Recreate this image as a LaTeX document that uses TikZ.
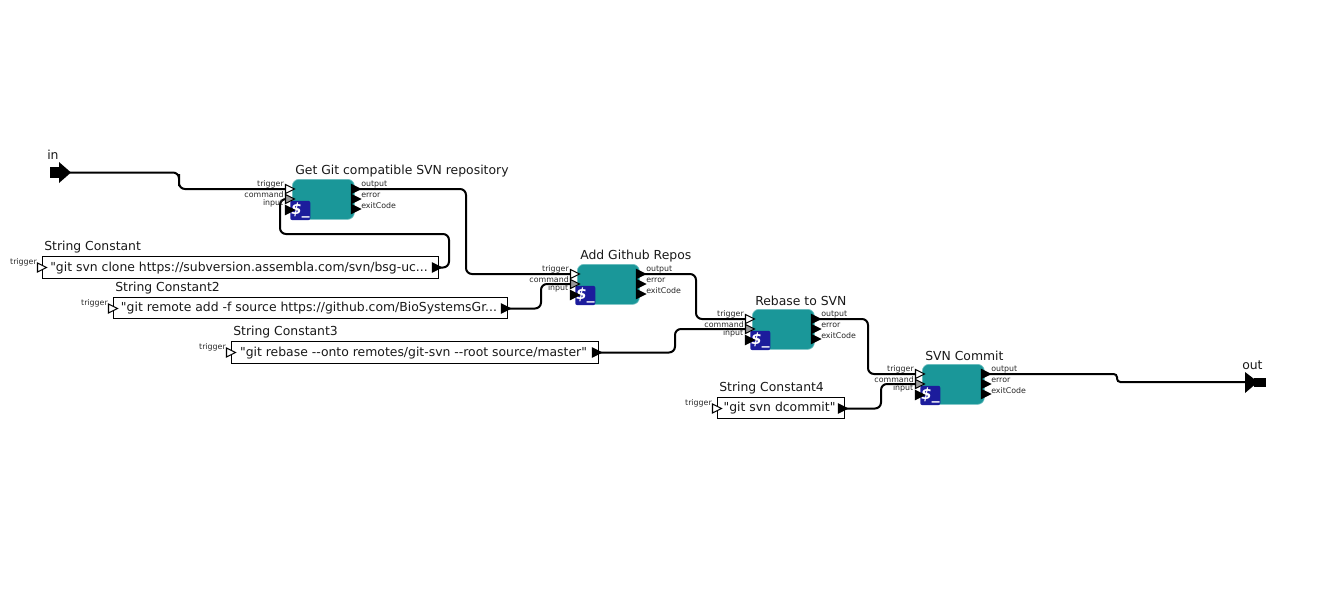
\documentclass[tikz,border=0pt]{standalone}
\usepackage{fontspec}
\setmainfont{DejaVu Sans}
\font\bodyfnt="DejaVu Sans" at 9.3pt
\usetikzlibrary{backgrounds}
\definecolor{teal1}{HTML}{1A9799}
\definecolor{teal2}{HTML}{6FBFC0}
\definecolor{navy1}{HTML}{1C1C9C}
\tikzset{
  x=0.75pt,y=-0.75pt,
  wire/.style={draw=black,line width=1.5pt,rounded corners=4.5pt},
  titlelbl/.style={font=\fontsize{9.3}{11}\selectfont,inner sep=0pt,anchor=west,text=black!90},
  portlbl/.style={font=\fontsize{5.9}{7}\selectfont,inner sep=0pt,text=black!85},
  bodylbl/.style={font=\bodyfnt,inner sep=0pt,text=black!90},
  modbox/.style={fill=teal1,draw=teal2,line width=0.5pt,rounded corners=5pt,minimum width=46.5pt,minimum height=30pt,inner sep=0pt},
  iconbox/.style={fill=navy1,rounded corners=1.5pt,minimum width=15pt,minimum height=14.5pt,inner sep=0pt,text=white,font=\fontsize{11.5}{11.5}\bfseries\itshape\selectfont},
  constbox/.style={draw=black,fill=white,line width=0.8pt,inner sep=0pt},
  porttri/.style={draw=black,line width=0.8pt,line join=miter},
}
\newcommand{\porttriangle}[4]{%
  \coordinate (#1) at (#2,#3);
  \filldraw[porttri,fill=#4] (#2-4.5,#3-4.5) -- (#2+4.5,#3) -- (#2-4.5,#3+4.5) -- cycle;}
\newcommand{\modnode}[4]{%
  \node[modbox,anchor=north west] (#1) at (#2,#3) {};
  \node[titlelbl] (#1-title) at (#2+3,#3-8) {#4};
  \node[iconbox,anchor=north west] (#1-icon) at (#2-2,#3+21.5) {\$\_};
  \node[portlbl,anchor=east] (#1-lt) at (#2-8,#3+5.5) {trigger};
  \node[portlbl,anchor=east] (#1-lc) at (#2-8,#3+16) {command};
  \node[portlbl,anchor=east] (#1-li) at (#2-8.5,#3+24.5) {input};
  \node[portlbl,anchor=west] (#1-lo) at (#2+69,#3+5.5) {output};
  \node[portlbl,anchor=west] (#1-le) at (#2+69,#3+16) {error};
  \node[portlbl,anchor=west] (#1-lx) at (#2+69,#3+26.5) {exitCode};
  \porttriangle{#1-t}{#2-2}{#3+10}{white}
  \porttriangle{#1-c}{#2-2}{#3+20}{black!40}
  \porttriangle{#1-i}{#2-2}{#3+31}{black}
  \porttriangle{#1-o}{#2+64}{#3+10}{black}
  \porttriangle{#1-e}{#2+64}{#3+20}{black}
  \porttriangle{#1-x}{#2+64}{#3+30}{black}
}
\newcommand{\constnode}[7]{%
  \node[constbox,anchor=north west,minimum width={(#4-#2)*0.75pt},minimum height={(#5-#3)*0.75pt}] (#1) at (#2,#3) {};
  \node[bodylbl] (#1-text) at ({(#2+#4)/2-1},{(#3+#5)/2+1}) {#7};
  \node[titlelbl] (#1-title) at (#2+2,#3-9) {#6};
  \node[portlbl,anchor=east] (#1-lt) at (#2-5,#3+6) {trigger};
  \porttriangle{#1-t}{#2}{#3+11.5}{white}
  \porttriangle{#1-o}{#4-1}{#3+11.5}{black}
}
\begin{document}
\begin{tikzpicture}
\useasboundingbox (0,0) rectangle (1333,597);
\fill (50,167) rectangle (60,178);
\fill (59,162) -- (71,172.5) -- (59,183) -- cycle;
\coordinate (in-o) at (70,172.5);
\node[titlelbl] (in-title) at (47,155) {in};
\fill (1245,372) -- (1258,382) -- (1245,393) -- cycle;
\fill (1254,378) rectangle (1266,387);
\coordinate (out-i) at (1246,382);
\node[titlelbl] (out-title) at (1242,365) {out};
\modnode{m1}{292}{179}{Get Git compatible SVN repository}
\modnode{m2}{577}{264}{Add Github Repos}
\modnode{m3}{752}{309}{Rebase to SVN}
\modnode{m4}{922}{364}{SVN Commit}
\constnode{s1}{42}{256}{438}{278}{String Constant}{"git svn clone https://subversion.assembla.com/svn/bsg-uc...}
\constnode{s2}{113}{297}{507}{318}{String Constant2}{"git remote add -f source https://github.com/BioSystemsGr...}
\constnode{s3}{231}{341}{598}{363}{String Constant3}{"git rebase --onto remotes/git-svn --root source/master"}
\constnode{s4}{717}{397}{844}{418}{String Constant4}{"git svn dcommit"}
\coordinate (b1) at (179,180);
\coordinate (b2) at (449,234);
\coordinate (b2b) at (280,234);
\coordinate (b3) at (466,230);
\coordinate (b4) at (541,295);
\coordinate (b5) at (696,300);
\coordinate (b6) at (675,340);
\coordinate (b7) at (868,350);
\coordinate (b8) at (881,395);
\coordinate (b9) at (1117,382);
\begin{scope}[on background layer]
\draw[wire] (in-o) -| (b1) |- (m1-t);
\draw[wire] (s1-o) -| (b2) -- (b2b) |- (m1-c);
\draw[wire] (m1-o) -| (b3) |- (m2-t);
\draw[wire] (s2-o) -| (b4) |- (m2-c);
\draw[wire] (m2-o) -| (b5) |- (m3-t);
\draw[wire] (s3-o) -| (b6) |- (m3-c);
\draw[wire] (m3-o) -| (b7) |- (m4-t);
\draw[wire] (s4-o) -| (b8) |- (m4-c);
\draw[wire,rounded corners=2.5pt] (m4-o) -| (b9) -- (out-i);
\end{scope}
\end{tikzpicture}
\end{document}
